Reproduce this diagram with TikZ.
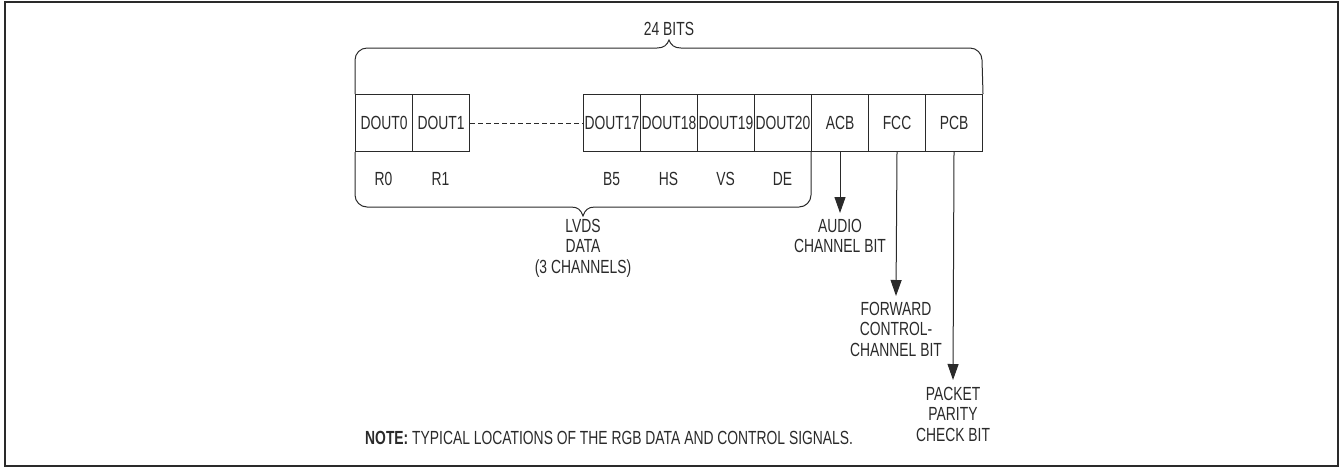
\documentclass[tikz,border=0pt]{standalone}
\usepackage{fontspec}
\setmainfont[FakeStretch=0.73]{Liberation Sans}
\usetikzlibrary{arrows.meta}
\definecolor{ink}{HTML}{2A2A2A}
\begin{document}
\begin{tikzpicture}[x=1pt,y=-1pt,
  font=\fontsize{19}{20}\selectfont,
  every node/.style={text=ink},
  bitbox/.style={draw=ink,line width=1pt,minimum width=57pt,minimum height=57pt,inner sep=0pt,anchor=north west},
  lbl/.style={inner sep=0pt},
  brace/.style={draw=ink,line width=1pt},
  pointer/.style={draw=ink,line width=1pt,-{Triangle[length=16pt,width=11pt]}},
  multi/.style={align=center,inner sep=0pt,font=\fontsize{19}{20.5}\selectfont}]
\useasboundingbox (0,0) rectangle (1340,467);
\draw[draw=ink,line width=2pt] (5,2) rectangle (1338,466);
% boxes
\node[bitbox] (d0) at (355,94) {DOUT0};
\node[bitbox] (d1) at (412,94) {DOUT1};
\node[bitbox] (d17) at (583,94) {DOUT17};
\node[bitbox] (d18) at (640,94) {DOUT18};
\node[bitbox] (d19) at (697,94) {DOUT19};
\node[bitbox] (d20) at (754,94) {DOUT20};
\node[bitbox] (acb) at (811,94) {ACB};
\node[bitbox] (fcc) at (868,94) {FCC};
\node[bitbox] (pcb) at (925,94) {PCB};
\draw[draw=ink,line width=1pt,dash pattern=on 5pt off 3pt] (d1.east) -- (d17.west);
% labels under
\node[lbl] (r0) at (383.5,179) {R0};
\node[lbl] (r1) at (440.5,179) {R1};
\node[lbl] (b5) at (611.5,179) {B5};
\node[lbl] (hs) at (668.5,179) {HS};
\node[lbl] (vs) at (725.5,179) {VS};
\node[lbl] (de) at (782.5,179) {DE};
% top brace
\draw[brace] (d0.north west) -- (355,60) .. controls (355,53.4) and (360.4,48) .. (367,48) -- (657,48)
  .. controls (664,48) and (667,45) .. (669,40)
  .. controls (671,45) and (674,48) .. (681,48) -- (970,48)
  .. controls (976.6,48) and (982,53.4) .. (982,60) -- (pcb.north east);
\node[lbl] (bits) at (669,29) {24 BITS};
% bottom brace
\draw[brace] (d0.south west) -- (355,195) .. controls (355,201.6) and (360.4,207) .. (367,207) -- (571,207)
  .. controls (578,207) and (581,210) .. (583,216)
  .. controls (585,210) and (588,207) .. (595,207) -- (799,207)
  .. controls (805.6,207) and (811,201.6) .. (811,195) -- (acb.south west);
\node[multi,anchor=north] (lvds) at (583,219) {LVDS\\DATA\\(3 CHANNELS)};
% arrows
\coordinate (acbend) at (840,213);
\coordinate (fccend) at (896,296);
\coordinate (pcbend) at (953,380);
\draw[pointer] (acb.south) -- (acbend);
\draw[pointer] (fcc.south) -- (fccend);
\draw[pointer] (pcb.south) -- (pcbend);
\node[multi,anchor=north] (audio) at (840,219) {AUDIO\\CHANNEL BIT};
\node[multi,anchor=north] (fwd) at (896,302) {FORWARD\\CONTROL-\\CHANNEL BIT};
\node[multi,anchor=north] (pkt) at (953,387) {PACKET\\PARITY\\CHECK BIT};
\node[lbl,anchor=west] (note) at (365,438) {{\bfseries NOTE:} TYPICAL LOCATIONS OF THE RGB DATA AND CONTROL SIGNALS.};
\end{tikzpicture}
\end{document}
